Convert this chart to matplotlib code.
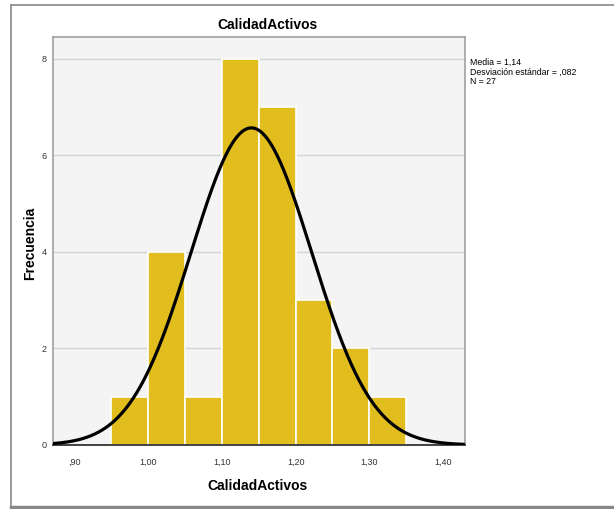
import numpy as np
import matplotlib.pyplot as plt
from matplotlib.lines import Line2D

plt.rcParams['font.family'] = ['Liberation Sans', 'DejaVu Sans']

# datos del histograma
bordes = [0.95, 1.00, 1.05, 1.10, 1.15, 1.20, 1.25, 1.30, 1.35]
frecuencias = [1, 4, 1, 8, 7, 3, 2, 1]
media = 1.14
desv = 0.082
n = 27
xticks = [0.90, 1.00, 1.10, 1.20, 1.30, 1.40]
xtick_labels = [',90', '1,00', '1,10', '1,20', '1,30', '1,40']
yticks = [0, 2, 4, 6, 8]

fig = plt.figure(figsize=(6.14, 5.09), dpi=100)
ax = fig.add_axes([52.5 / 614, 1 - 445 / 509, 412.5 / 614, 408 / 509])
ax.set_facecolor('#f4f4f4')

anchos = np.diff(bordes)
ax.bar(bordes[:-1], frecuencias, width=anchos, align='edge',
       color='#e1bd1e', edgecolor='white', linewidth=1.2, zorder=2)

# curva normal
x = np.linspace(0.86, 1.44, 400)
ancho = bordes[1] - bordes[0]
y = n * ancho / (desv * np.sqrt(2 * np.pi)) * np.exp(-0.5 * ((x - media) / desv) ** 2)
ax.plot(x, y, color='black', linewidth=2.3, zorder=3)

ax.set_xlim(0.870, 1.430)
ax.set_ylim(0, 8.45)
ax.set_xticks(xticks)
ax.set_xticklabels(xtick_labels)
ax.set_yticks(yticks)
ax.yaxis.grid(True, color='#d4d4d4', linewidth=1, zorder=0)
ax.set_axisbelow(True)
ax.tick_params(length=0, labelsize=6.5, colors='#333333')
ax.tick_params(axis='x', pad=9)
ax.tick_params(axis='y', pad=4)
for s in ax.spines.values():
    s.set_color('#a0a0a0')
    s.set_linewidth(1.2)
ax.spines['bottom'].set_color('#222222')

fig.text(267 / 614, 1 - 25 / 509, 'CalidadActivos', ha='center', va='center',
         fontsize=10, fontweight='bold')
fig.text(258 / 614, 1 - 486 / 509, 'CalidadActivos', ha='center', va='center',
         fontsize=10, fontweight='bold')
fig.text(30 / 614, 1 - 243 / 509, 'Frecuencia', ha='center', va='center',
         fontsize=10, fontweight='bold', rotation=90)

fig.text(470 / 614, 1 - 58 / 509,
         'Media = 1,14\nDesviación estándar = ,082\nN = 27',
         ha='left', va='top', fontsize=6.3, linespacing=1.05)

# marco exterior
fig.add_artist(Line2D([11 / 614, 11 / 614], [1 - 5 / 509, 1 - 507 / 509],
                      transform=fig.transFigure, color='#888888', linewidth=1.2))
fig.add_artist(Line2D([11 / 614, 1], [1 - 5 / 509, 1 - 5 / 509],
                      transform=fig.transFigure, color='#888888', linewidth=1.2))
fig.add_artist(Line2D([11 / 614, 1], [1 - 507 / 509, 1 - 507 / 509],
                      transform=fig.transFigure, color='#888888', linewidth=2.5))

fig.savefig('out.png', dpi=100)
